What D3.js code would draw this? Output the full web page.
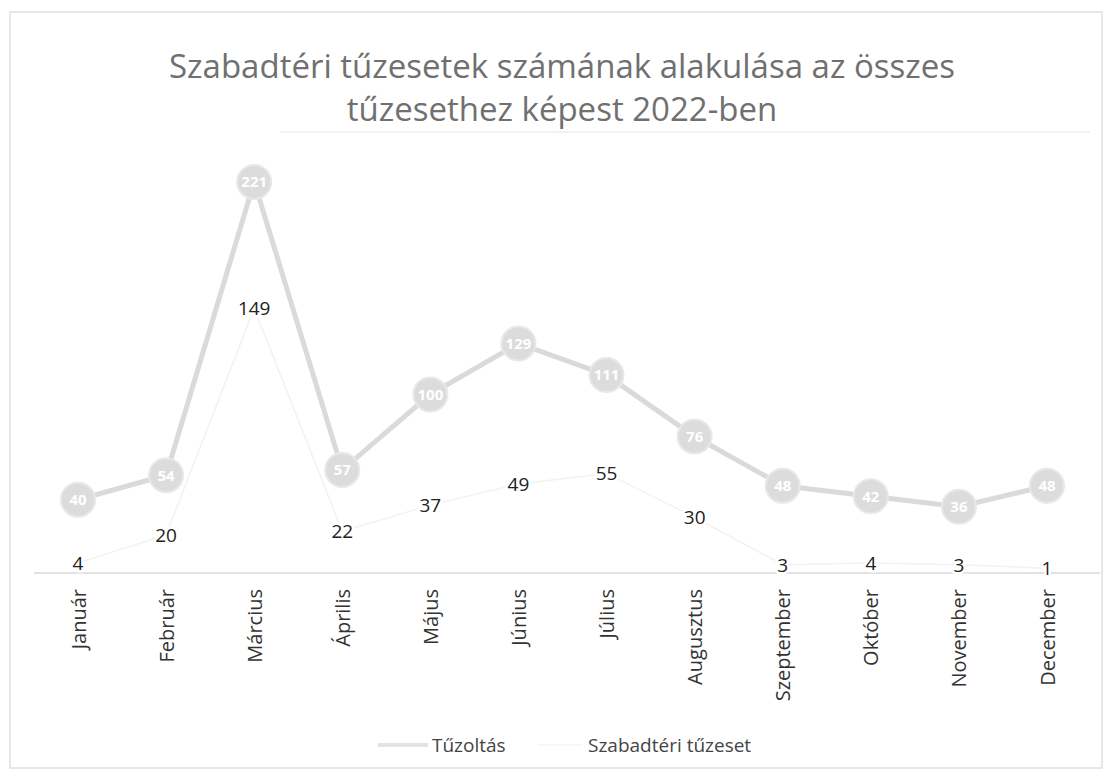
<!DOCTYPE html>
<html>
<head>
<meta charset="utf-8">
<script src="https://cdn.jsdelivr.net/npm/d3@7"></script>
<style>
  body { margin: 0; background: #fff; }
  text { font-family: "Open Sans", sans-serif; }
</style>
</head>
<body>
<svg id="chart" width="1114" height="777"></svg>
<script>
// adatok (2022)
const months = ['Január', 'Február', 'Március', 'Április', 'Május', 'Június',
  'Július', 'Augusztus', 'Szeptember', 'Október', 'November', 'December'];
const tuzoltas = [40, 54, 221, 57, 100, 129, 111, 76, 48, 42, 36, 48];
const szabadteri = [4, 20, 149, 22, 37, 49, 55, 30, 3, 4, 3, 1];
const titleLines = ['Szabadtéri tűzesetek számának alakulása az összes', 'tűzesethez képest 2022-ben'];
const seriesNames = ['Tűzoltás', 'Szabadtéri tűzeset'];

const svg = d3.select('#chart');

// keret
svg.append('rect')
  .attr('x', 10).attr('y', 12).attr('width', 1092).attr('height', 756)
  .attr('fill', 'none').attr('stroke', '#e0e0e0').attr('stroke-width', 1.5);

// cím
svg.append('g').selectAll('text')
  .data(titleLines)
  .join('text')
  .attr('x', 562)
  .attr('y', (d, i) => 78 + i * 43)
  .attr('text-anchor', 'middle')
  .attr('font-size', 33)
  .attr('fill', '#707070')
  .text(d => d);

svg.append('line')
  .attr('x1', 280).attr('x2', 1090).attr('y1', 132).attr('y2', 132)
  .attr('stroke', '#e6e6e6');

const x = d3.scalePoint().domain(months).range([78, 1047]);
const y = d3.scaleLinear().domain([0, 250]).range([570, 131]);

// x tengely
const xAxis = svg.append('g')
  .attr('transform', `translate(0,${y(0) + 3})`)
  .call(d3.axisBottom(x).tickSize(0).tickPadding(0));
xAxis.select('.domain')
  .attr('d', 'M34,0H1100')
  .attr('stroke', '#d9d9d9')
  .attr('stroke-width', 1.5);
xAxis.selectAll('.tick text')
  .attr('transform', 'rotate(-90)')
  .attr('text-anchor', 'end')
  .attr('x', -16)
  .attr('y', 0)
  .attr('dy', '0.35em')
  .attr('font-size', 20)
  .attr('font-family', '"Open Sans", sans-serif')
  .attr('fill', '#333');

const line = d3.line()
  .x((d, i) => x(months[i]))
  .y(d => y(d));

// Szabadtéri tűzeset (halvány vonal)
svg.append('path')
  .datum(szabadteri)
  .attr('d', line)
  .attr('fill', 'none')
  .attr('stroke', '#f2f2f2')
  .attr('stroke-width', 1.5);

// Tűzoltás
svg.append('path')
  .datum(tuzoltas)
  .attr('d', line)
  .attr('fill', 'none')
  .attr('stroke', '#dadada')
  .attr('stroke-width', 5);

const pts = svg.append('g').selectAll('g')
  .data(tuzoltas)
  .join('g')
  .attr('transform', (d, i) => `translate(${x(months[i])},${y(d)})`);
pts.append('circle')
  .attr('r', 17)
  .attr('fill', '#dcdcdc')
  .attr('stroke', '#e8e8e8')
  .attr('stroke-width', 2);
pts.append('text')
  .attr('text-anchor', 'middle')
  .attr('dy', '0.36em')
  .attr('font-size', 15)
  .attr('font-weight', 'bold')
  .attr('fill', '#fff')
  .text(d => d);

// Szabadtéri tűzeset címkék
svg.append('g').selectAll('text')
  .data(szabadteri)
  .join('text')
  .attr('x', (d, i) => x(months[i]))
  .attr('y', d => y(d))
  .attr('dy', '0.36em')
  .attr('text-anchor', 'middle')
  .attr('font-size', 19)
  .attr('fill', '#222')
  .attr('stroke', '#fff')
  .attr('stroke-width', 5)
  .attr('paint-order', 'stroke')
  .text(d => d);

// jelmagyarázat
const legend = svg.append('g').attr('transform', 'translate(378,745)');
legend.append('line')
  .attr('x1', 0).attr('x2', 50).attr('y1', 0).attr('y2', 0)
  .attr('stroke', '#e3e3e3').attr('stroke-width', 4);
legend.append('text')
  .attr('x', 54).attr('dy', '0.35em')
  .attr('font-size', 19).attr('fill', '#444')
  .text(seriesNames[0]);
legend.append('line')
  .attr('x1', 160).attr('x2', 204).attr('y1', 0).attr('y2', 0)
  .attr('stroke', '#f4f4f4').attr('stroke-width', 1.5);
legend.append('text')
  .attr('x', 210).attr('dy', '0.35em')
  .attr('font-size', 19).attr('fill', '#444')
  .text(seriesNames[1]);
</script>
</body>
</html>
